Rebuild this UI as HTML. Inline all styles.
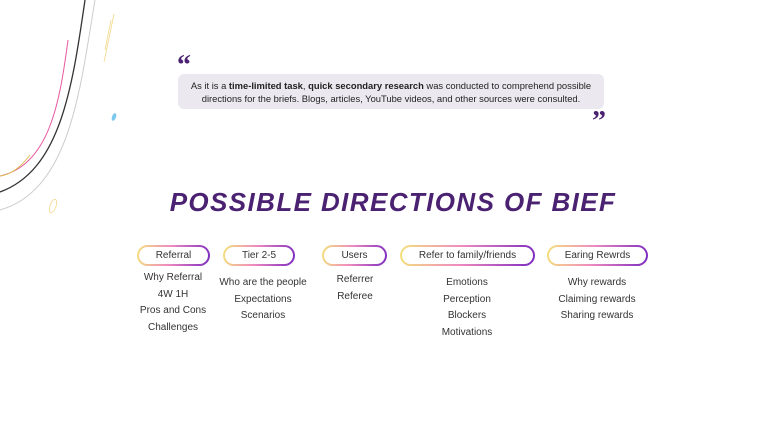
<!DOCTYPE html>
<html><head><meta charset="utf-8"><style>
body{margin:0;width:768px;height:433px;background:#fff;position:relative;overflow:hidden;font-family:"Liberation Sans",sans-serif;color:#333}
.abs{position:absolute}
.pill{position:absolute;height:21px;border-radius:12px;padding:2px;background:linear-gradient(100deg,#f3e27a 0%,#f08ac0 45%,#7b2bc0 100%);box-sizing:border-box}
.pill span{display:block;height:100%;background:#fff;border-radius:10px;font-size:10px;line-height:18px;text-align:center;color:#333}
.col{position:absolute;font-size:10px;text-align:center;line-height:16.7px;color:#333;transform:translateX(-50%);white-space:nowrap}
</style></head><body>
<svg class="abs" style="left:0;top:0" width="140" height="230">
<path d="M95,0 C80,90 70,190 0,210" fill="none" stroke="#ccc" stroke-width="1"/>
<path d="M85,0 C72,90 60,170 0,192" fill="none" stroke="#333" stroke-width="1.3"/>
<path d="M68,40 C60,100 50,165 0,176" fill="none" stroke="#e85aa0" stroke-width="1"/>
<path d="M30,155 C20,168 10,175 0,176" fill="none" stroke="#d9c24a" stroke-width="1"/>
<path d="M114,14 L104,62 M111,20 L105,50" stroke="#f3d88a" stroke-width="0.8"/>
<ellipse cx="53" cy="206" rx="3" ry="7" transform="rotate(20 53 206)" fill="none" stroke="#f3d88a" stroke-width="0.8"/>
<ellipse cx="114" cy="117" rx="2" ry="4" transform="rotate(20 114 117)" fill="#7cc8ee"/>
</svg>
<div class="abs" style="left:177px;top:50px;font-size:28px;font-weight:bold;color:#4b2272;font-family:'Liberation Serif',serif">“</div>
<div class="abs" style="left:178px;top:74px;width:426px;height:35px;background:#ebe8ef;border-radius:6px;font-size:9.4px;line-height:13px;text-align:center;padding-top:5px;box-sizing:border-box;color:#222">As it is a <b>time-limited task</b>, <b>quick secondary research</b> was conducted to comprehend possible<br>directions for the briefs. Blogs, articles, YouTube videos, and other sources were consulted.</div>
<div class="abs" style="left:592px;top:106px;font-size:28px;font-weight:bold;color:#4b2272;font-family:'Liberation Serif',serif">”</div>
<div class="abs" style="left:0;width:786px;top:187px;text-align:center;font-size:26px;font-weight:bold;font-style:italic;color:#4b2272;letter-spacing:1.4px">POSSIBLE DIRECTIONS OF BIEF</div>
<div class="pill" style="left:137px;top:245px;width:73px"><span>Referral</span></div>
<div class="pill" style="left:223px;top:245px;width:72px"><span>Tier 2-5</span></div>
<div class="pill" style="left:322px;top:245px;width:65px"><span>Users</span></div>
<div class="pill" style="left:400px;top:245px;width:135px"><span>Refer to family/friends</span></div>
<div class="pill" style="left:547px;top:245px;width:101px"><span>Earing Rewrds</span></div>
<div class="col" style="left:173px;top:270px">Why Referral<br>4W 1H<br>Pros and Cons<br>Challenges</div>
<div class="col" style="left:263px;top:275px">Who are the people<br>Expectations<br>Scenarios</div>
<div class="col" style="left:355px;top:272px">Referrer<br>Referee</div>
<div class="col" style="left:467px;top:275px">Emotions<br>Perception<br>Blockers<br>Motivations</div>
<div class="col" style="left:597px;top:275px">Why rewards<br>Claiming rewards<br>Sharing rewards</div>
</body></html>
